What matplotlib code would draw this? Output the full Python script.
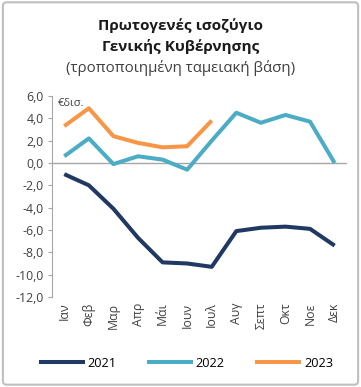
import matplotlib
matplotlib.use("Agg")
import matplotlib.pyplot as plt
from matplotlib.patches import FancyBboxPatch

months = ["Ιαν", "Φεβ", "Μαρ", "Απρ", "Μάι", "Ιουν", "Ιουλ", "Αυγ", "Σεπτ", "Οκτ", "Νοε", "Δεκ"]
y2021 = [-1.0, -2.0, -4.1, -6.7, -8.9, -9.0, -9.3, -6.1, -5.8, -5.7, -5.9, -7.4]
y2022 = [0.6, 2.2, -0.1, 0.6, 0.3, -0.6, 2.0, 4.5, 3.6, 4.3, 3.7, 0.0]
y2023 = [3.3, 4.9, 2.4, 1.8, 1.4, 1.5, 3.8]
yticks = [6, 4, 2, 0, -2, -4, -6, -8, -10, -12]

plt.rcParams['font.family'] = ['Open Sans', 'DejaVu Sans']

fig = plt.figure(figsize=(3.61, 3.87), dpi=100)
fig.patches.append(FancyBboxPatch((0.008, 0.006), 0.984, 0.988, boxstyle="round,pad=0,rounding_size=0.01",
                                  transform=fig.transFigure, fill=False, edgecolor="#BFBFBF", linewidth=1.5))

ax = fig.add_axes([0.144, 0.2326, 0.817, 0.5194])
x = list(range(12))
ax.plot(x, y2021, color="#203864", lw=2.9, label="2021", solid_capstyle="butt")
ax.plot(x, y2022, color="#4BACC6", lw=2.9, label="2022", solid_capstyle="butt")
ax.plot(range(len(y2023)), y2023, color="#F79646", lw=2.9, label="2023", solid_capstyle="butt")
ax.axhline(0, color="#A6A6A6", lw=1.0, zorder=0)

ax.set_xlim(-0.5, 11.5)
ax.set_ylim(-12, 6)
ax.set_yticks(yticks)
ax.set_yticklabels([f"{v:.1f}".replace(".", ",") for v in yticks], fontsize=8.8, color="#404040")
ax.set_xticks(x)
ax.set_xticklabels(months, rotation=90, fontsize=8.8, color="#404040")
ax.tick_params(axis="x", length=0, pad=4)
ax.tick_params(axis="y", length=3, color="#A6A6A6", direction="out", pad=3)
for s in ["top", "right", "bottom"]:
    ax.spines[s].set_visible(False)
ax.spines["left"].set_color("#A6A6A6")
ax.text(0.02, 0.99, "€δισ.", transform=ax.transAxes, fontsize=8, color="#404040", va="top", ha="left")

fig.text(0.5, 0.934, "Πρωτογενές ισοζύγιο", ha="center", va="center", fontsize=11, fontweight="bold", color="#1a1a1a")
fig.text(0.5, 0.880, "Γενικής Κυβέρνησης", ha="center", va="center", fontsize=11, fontweight="bold", color="#1a1a1a")
fig.text(0.5, 0.823, "(τροποποιημένη ταμειακή βάση)", ha="center", va="center", fontsize=10.8, color="#404040")

fig.legend(loc="center", bbox_to_anchor=(0.515, 0.062), ncol=3, frameon=False, fontsize=9.2,
           handlelength=3.6, columnspacing=2.4, handletextpad=0.2)

fig.savefig("out.png", dpi=100)
